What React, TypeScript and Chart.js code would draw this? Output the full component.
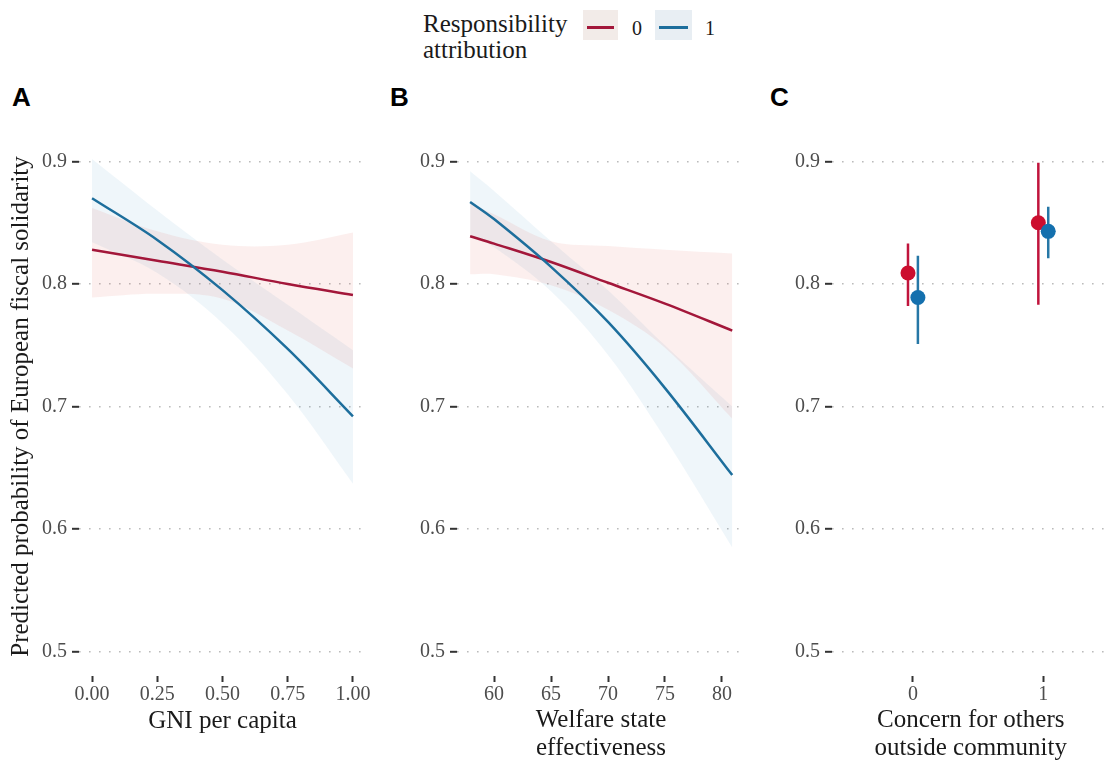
import React, { useEffect, useRef } from 'react';
import { Chart, registerables } from 'chart.js';

Chart.register(...registerables);

const SERIF = '"Liberation Serif", "Times New Roman", serif';
const SANS = '"Liberation Sans", Arial, sans-serif';

// Shared y axis
const yTicks = [0.5, 0.6, 0.7, 0.8, 0.9];
const yTitle = 'Predicted probability of European fiscal solidarity';

// Panel A: GNI per capita
const gniTicks = [0, 0.25, 0.5, 0.75, 1];
const gniX = [0, 0.25, 0.5, 0.75, 1];
const aFit0 = [0.828, 0.819, 0.81, 0.8, 0.791];
const aLow0 = [0.789, 0.792, 0.788, 0.762, 0.731];
const aHigh0 = [0.862, 0.843, 0.832, 0.832, 0.842];
const aFit1 = [0.87, 0.836, 0.795, 0.747, 0.692];
const aLow1 = [0.834, 0.809, 0.768, 0.71, 0.637];
const aHigh1 = [0.902, 0.86, 0.82, 0.783, 0.746];

// Panel B: Welfare state effectiveness
const wseTicks = [60, 65, 70, 75, 80];
const wseX = [57.9, 60, 65, 70, 75, 80.9];
const bFit0 = [0.839, 0.833, 0.818, 0.801, 0.784, 0.762];
const bLow0 = [0.808, 0.808, 0.799, 0.779, 0.748, 0.69];
const bHigh0 = [0.866, 0.857, 0.835, 0.831, 0.828, 0.825];
const bFit1 = [0.867, 0.853, 0.814, 0.769, 0.715, 0.644];
const bLow1 = [0.84, 0.83, 0.794, 0.742, 0.674, 0.585];
const bHigh1 = [0.892, 0.876, 0.835, 0.795, 0.75, 0.7];

// Panel C: Concern for others outside community
const concernCats = [0, 1];
const cMean0 = [0.809, 0.85];
const cLow0 = [0.782, 0.783];
const cHigh0 = [0.833, 0.899];
const cMean1 = [0.789, 0.843];
const cLow1 = [0.751, 0.821];
const cHigh1 = [0.823, 0.863];
const DODGE = 0.038;

const RED_LINE = '#A3173A';
const BLUE_LINE = '#1D6E9C';
const RED_FILL = 'rgba(220,80,70,0.09)';
const BLUE_FILL = 'rgba(70,150,200,0.086)';
const RED_POINT = '#CC0E2E';
const BLUE_POINT = '#1470AE';
const RED_BAR = '#C0143C';
const BLUE_BAR = '#2677A6';

const pts = (xs: number[], ys: number[]) => xs.map((x, i) => ({ x, y: ys[i] }));

function makeOptions(o: {
  xMin: number;
  xMax: number;
  xTicks: number[];
  xFmt: (v: number) => string;
  xTitle: string | string[];
  titlePad: number;
  yWidth: number;
  padRight: number;
  showYTitle?: boolean;
}) {
  return {
    animation: false,
    responsive: false,
    events: [],
    layout: { padding: { top: 16.5, right: o.padRight, bottom: 0, left: 0 } },
    plugins: { legend: { display: false }, tooltip: { enabled: false } },
    scales: {
      x: {
        type: 'linear',
        bounds: 'data',
        min: o.xMin,
        max: o.xMax,
        afterBuildTicks: (s: any) => {
          s.ticks = o.xTicks.map((v) => ({ value: v }));
        },
        afterFit: (s: any) => {
          s.height = 86;
        },
        ticks: {
          autoSkip: false,
          maxRotation: 0,
          padding: 1,
          color: '#4D4D4D',
          font: { family: SERIF, size: 20 },
          callback: (v: any) => o.xFmt(Number(v)),
        },
        grid: { drawOnChartArea: false, drawTicks: true, tickLength: 6, tickWidth: 2, tickColor: '#333333' },
        border: { display: false },
        title: {
          display: true,
          text: o.xTitle,
          color: '#1A1A1A',
          font: { family: SERIF, size: 25, lineHeight: 1.1 },
          padding: { top: 0, bottom: o.titlePad },
        },
      },
      y: {
        type: 'linear',
        bounds: 'data',
        min: 0.48,
        max: 0.92,
        afterBuildTicks: (s: any) => {
          s.ticks = yTicks.map((v) => ({ value: v }));
        },
        afterFit: (s: any) => {
          s.width = o.yWidth;
        },
        ticks: {
          padding: 5,
          color: '#4D4D4D',
          font: { family: SERIF, size: 20 },
          callback: (v: any) => Number(v).toFixed(1),
        },
        grid: { color: '#BBBBBB', lineWidth: 1.6, drawTicks: true, tickLength: 7, tickWidth: 2, tickColor: '#333333' },
        border: { display: false, dash: [1.6, 8.4] },
        title: o.showYTitle
          ? {
              display: true,
              text: yTitle,
              color: '#1A1A1A',
              font: { family: SERIF, size: 25, lineHeight: 1.1 },
              padding: { top: 8, bottom: 0 },
            }
          : { display: false },
      },
    },
  };
}

function ribbonSets(xs: number[], fit0: number[], low0: number[], high0: number[], fit1: number[], low1: number[], high1: number[]) {
  const band = (ys: number[], fill: any, color: string) => ({
    type: 'line',
    data: pts(xs, ys),
    borderWidth: 0,
    borderColor: 'rgba(0,0,0,0)',
    pointRadius: 0,
    fill,
    backgroundColor: color,
    tension: 0.35,
  });
  const line = (ys: number[], color: string) => ({
    type: 'line',
    data: pts(xs, ys),
    borderWidth: 2.5,
    borderColor: color,
    pointRadius: 0,
    fill: false,
    tension: 0.35,
  });
  return [
    line(fit1, BLUE_LINE),
    line(fit0, RED_LINE),
    band(high0, '+1', RED_FILL),
    band(low0, false, RED_FILL),
    band(high1, '+1', BLUE_FILL),
    band(low1, false, BLUE_FILL),
  ];
}

function buildA() {
  return {
    type: 'line',
    data: { datasets: ribbonSets(gniX, aFit0, aLow0, aHigh0, aFit1, aLow1, aHigh1) },
    options: makeOptions({
      xMin: -0.05,
      xMax: 1.05,
      xTicks: gniTicks,
      xFmt: (v) => v.toFixed(2),
      xTitle: 'GNI per capita',
      titlePad: 27,
      yWidth: 79,
      padRight: 14,
      showYTitle: true,
    }),
  };
}

function buildB() {
  return {
    type: 'line',
    data: { datasets: ribbonSets(wseX, bFit0, bLow0, bHigh0, bFit1, bLow1, bHigh1) },
    options: makeOptions({
      xMin: 56.75,
      xMax: 82.02,
      xTicks: wseTicks,
      xFmt: (v) => String(v),
      xTitle: ['Welfare state', 'effectiveness'],
      titlePad: 0,
      yWidth: 77,
      padRight: 15,
    }),
  };
}

function buildC() {
  const bars = (lows: number[], highs: number[], off: number, color: string) =>
    concernCats.map((c, i) => ({
      type: 'line',
      data: [
        { x: c + off, y: lows[i] },
        { x: c + off, y: highs[i] },
      ],
      borderWidth: 2.5,
      borderColor: color,
      pointRadius: 0,
      fill: false,
    }));
  const points = (means: number[], off: number, color: string) => ({
    type: 'line',
    data: concernCats.map((c, i) => ({ x: c + off, y: means[i] })),
    showLine: false,
    pointRadius: 7.5,
    pointBorderWidth: 0,
    pointBackgroundColor: color,
    backgroundColor: color,
    borderColor: color,
    fill: false,
  });
  return {
    type: 'line',
    data: {
      datasets: [
        points(cMean1, DODGE, BLUE_POINT),
        ...bars(cLow1, cHigh1, DODGE, BLUE_BAR),
        points(cMean0, -DODGE, RED_POINT),
        ...bars(cLow0, cHigh0, -DODGE, RED_BAR),
      ],
    },
    options: makeOptions({
      xMin: -0.621,
      xMax: 1.508,
      xTicks: concernCats,
      xFmt: (v) => String(v),
      xTitle: ['Concern for others', 'outside community'],
      titlePad: 0,
      yWidth: 72,
      padRight: 4,
    }),
  };
}

function ChartPanel({ left, width, build }: { left: number; width: number; build: () => any }) {
  const ref = useRef<HTMLCanvasElement>(null);
  useEffect(() => {
    if (!ref.current) return;
    const chart = new Chart(ref.current, build());
    return () => chart.destroy();
  }, []);
  return (
    <canvas
      ref={ref}
      width={width}
      height={642}
      style={{ position: 'absolute', left, top: 120, width, height: 642 }}
    />
  );
}

const letterStyle = (left: number): React.CSSProperties => ({
  position: 'absolute',
  left,
  top: 84,
  font: `bold 26px ${SANS}`,
  lineHeight: '26px',
  color: '#000',
});

export default function App() {
  return (
    <div style={{ position: 'absolute', left: 0, top: 0, width: 1117, height: 762, background: '#fff', overflow: 'hidden' }}>
      <div
        style={{
          position: 'absolute',
          left: 423,
          top: 11,
          font: `25px ${SERIF}`,
          lineHeight: '26px',
          color: '#1A1A1A',
          whiteSpace: 'nowrap',
        }}
      >
        Responsibility
        <br />
        attribution
      </div>
      <div style={{ position: 'absolute', left: 583, top: 10, width: 35, height: 30, background: '#F2EBE8' }}>
        <div style={{ position: 'absolute', left: 4, right: 4, top: 16, height: 3, background: RED_LINE }} />
      </div>
      <div style={{ position: 'absolute', left: 632, top: 16, font: `20px ${SERIF}`, lineHeight: '24px', color: '#1A1A1A' }}>0</div>
      <div style={{ position: 'absolute', left: 655, top: 10, width: 37, height: 30, background: '#E8EEF3' }}>
        <div style={{ position: 'absolute', left: 4, right: 4, top: 16, height: 3, background: BLUE_LINE }} />
      </div>
      <div style={{ position: 'absolute', left: 705, top: 16, font: `20px ${SERIF}`, lineHeight: '24px', color: '#1A1A1A' }}>1</div>

      <div style={letterStyle(12)}>A</div>
      <div style={letterStyle(390)}>B</div>
      <div style={letterStyle(770)}>C</div>

      <ChartPanel left={0} width={380} build={buildA} />
      <ChartPanel left={380} width={380} build={buildB} />
      <ChartPanel left={760} width={357} build={buildC} />
    </div>
  );
}
